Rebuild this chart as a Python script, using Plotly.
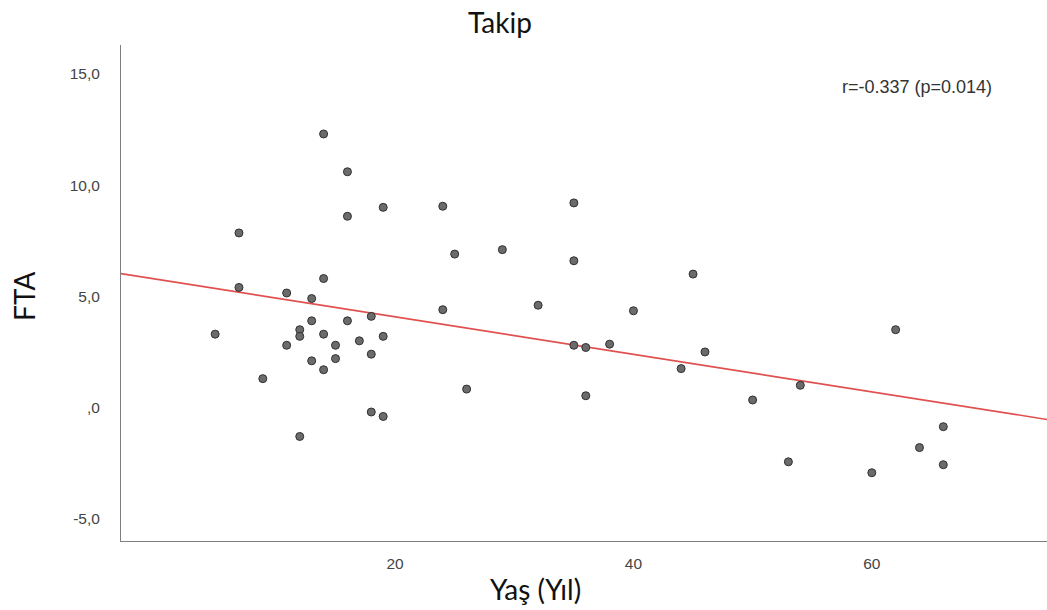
import numpy as np
import plotly.graph_objects as go

# Data (Age in years vs FTA)
age = [4.9, 6.9, 6.9, 8.9, 10.9, 10.9, 12, 12, 12, 13, 13, 13, 14, 14, 14, 14,
       15, 15, 16, 16, 16, 17, 18, 18, 18, 19, 19, 19,
       24, 24, 25, 26, 29, 32, 35, 35, 35, 36, 36, 38, 40, 44, 45, 46,
       50, 53, 54, 60, 62, 64, 66, 66]
fta = [3.3, 7.85, 5.4, 1.3, 5.15, 2.8, 3.5, 3.2, -1.3, 4.9, 3.9, 2.1, 5.8, 3.3, 1.7, 12.3,
       2.8, 2.2, 10.6, 8.6, 3.9, 3.0, 4.1, 2.4, -0.2, 9.0, 3.2, -0.4,
       9.05, 4.4, 6.9, 0.83, 7.1, 4.6, 9.2, 6.6, 2.8, 2.7, 0.53, 2.85, 4.35, 1.75, 6.0, 2.5,
       0.34, -2.44, 1.0, -2.93, 3.5, -1.8, -0.86, -2.57]

x_ticks = [20, 40, 60]
y_ticks = [-5, 0, 5, 10, 15]
y_ticklabels = ["-5,0", ",0", "5,0", "10,0", "15,0"]

x_range = [-3.0, 74.7]
y_range = [-6.0, 16.3]

# Linear fit line
slope, intercept = np.polyfit(age, fta, 1)
fit_x = np.array(x_range)
fit_y = intercept + slope * fit_x

fig = go.Figure()
fig.add_trace(go.Scatter(
    x=fit_x, y=fit_y, mode="lines",
    line=dict(color="#E0504F", width=1.6),
    hoverinfo="skip", showlegend=False,
))
fig.add_trace(go.Scatter(
    x=age, y=fta, mode="markers",
    marker=dict(size=8, color="#6B6B6B", line=dict(color="#303030", width=1)),
    showlegend=False,
))

title_font = dict(family="Lato, sans-serif", size=28, color="#111111")

fig.update_layout(
    width=1047, height=610,
    margin=dict(l=121, r=0, t=45, b=69),
    paper_bgcolor="white", plot_bgcolor="white",
    font=dict(family="Liberation Sans, Arial, sans-serif", color="#333333", size=15.5),
    showlegend=False,
)
fig.update_xaxes(
    range=x_range, tickvals=x_ticks, ticktext=[str(v) for v in x_ticks],
    showgrid=False, zeroline=False, showline=True, linecolor="#7f7f7f", linewidth=1,
    ticks="", ticklabelstandoff=8, tickfont=dict(size=15.5, color="#444444"),
)
fig.update_yaxes(
    range=y_range, tickvals=y_ticks, ticktext=y_ticklabels,
    showgrid=False, zeroline=False, showline=True, linecolor="#7f7f7f", linewidth=1,
    ticks="", ticklabelstandoff=17, tickfont=dict(size=15.5, color="#444444"),
)

fig.add_annotation(text="Takip", xref="paper", yref="paper", x=0.409, y=1.046,
                   showarrow=False, font=title_font, xanchor="center", yanchor="middle")
fig.add_annotation(text="Yaş (Yıl)", xref="paper", yref="paper", x=0.448, y=-0.097,
                   showarrow=False, font=title_font, xanchor="center", yanchor="middle")
fig.add_annotation(text="FTA", xref="paper", yref="paper", x=-0.1048, y=0.494,
                   showarrow=False, textangle=-90, font=title_font,
                   xanchor="center", yanchor="middle")
fig.add_annotation(text="r=-0.337 (p=0.014)", xref="paper", yref="paper", x=0.86, y=0.915,
                   showarrow=False,
                   font=dict(family="Liberation Sans, Arial, sans-serif", size=18, color="#333333"),
                   xanchor="center", yanchor="middle")

fig.write_html("out.html", config={"displayModeBar": False},
               post_script="document.body.style.margin='0';")
